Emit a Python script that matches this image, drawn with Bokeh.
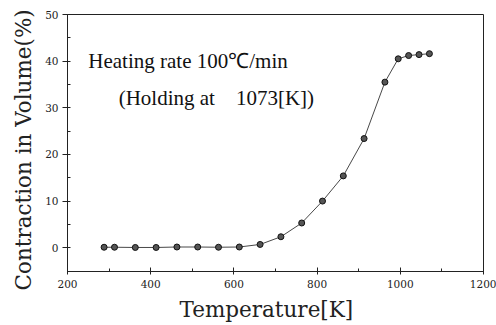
from bokeh.plotting import figure
from bokeh.models import Range1d, Label, FixedTicker, Title
from bokeh.embed import file_html
from bokeh.resources import INLINE

# Data
temperature_K = [288, 313, 363, 413, 463, 513, 563, 613, 663, 713,
                 763, 813, 863, 913, 963, 995, 1020, 1045, 1070]
contraction_pct = [0.1, 0.1, 0.05, 0.05, 0.15, 0.15, 0.1, 0.15, 0.7, 2.35,
                   5.3, 10.0, 15.4, 23.4, 35.5, 40.5, 41.2, 41.4, 41.6]
x_ticks = [200, 400, 600, 800, 1000, 1200]
y_ticks = [0, 10, 20, 30, 40, 50]

p = figure(frame_width=416, frame_height=257, output_backend="svg", toolbar_location=None,
           x_range=Range1d(200, 1200), y_range=Range1d(-5.1, 50),
           min_border_left=67, min_border_right=13, min_border_top=14, min_border_bottom=54)
p.grid.visible = False
p.outline_line_color = "#222222"
p.outline_line_width = 1
p.background_fill_color = "white"
p.border_fill_color = "white"

p.line(temperature_K, contraction_pct, line_color="#333333", line_width=0.9)
p.scatter(temperature_K, contraction_pct, size=6, fill_color="#555555",
          line_color="#111111", line_width=1)

serif = "DejaVu Serif"
for ax in (p.xaxis[0], p.yaxis[0]):
    ax.axis_line_color = "#222222"
    ax.major_tick_line_color = "#222222"
    ax.minor_tick_line_color = "#222222"
    ax.major_label_text_font = serif
    ax.major_label_text_font_size = "10.5px"
    ax.major_label_text_color = "#222222"
    ax.minor_tick_in = 3
    ax.minor_tick_out = 0

p.xaxis.ticker = FixedTicker(ticks=x_ticks, minor_ticks=list(range(200, 1201, 100)))
p.yaxis.ticker = FixedTicker(ticks=y_ticks, minor_ticks=list(range(-5, 51, 5)))
p.xaxis.major_tick_in = 4
p.xaxis.major_tick_out = 3
p.yaxis.major_tick_in = 0
p.yaxis.major_tick_out = 5
p.xaxis.major_label_standoff = 5
p.yaxis.major_label_standoff = 4

# axis titles as side titles so they can be offset like in the original
p.add_layout(Title(text="Contraction in Volume(%)", align="left", offset=-19, standoff=14,
                   text_font=serif, text_font_size="21.5px", text_font_style="normal",
                   text_color="#222222"), "left")
p.add_layout(Title(text="Temperature[K]", align="left", offset=112, standoff=8,
                   text_font=serif, text_font_size="21.5px", text_font_style="normal",
                   text_color="#222222"), "below")

p.add_layout(Label(x=250, y=40.1, text="Heating rate 100\u2103/min",
                   text_font="Liberation Serif", text_font_size="21px",
                   text_color="#111111", text_baseline="middle"))
p.add_layout(Label(x=323, y=32.0, text="(Holding at \u00a0\u00a0\u00a01073[K])",
                   text_font="Liberation Serif", text_font_size="21px",
                   text_color="#111111", text_baseline="middle"))

open("out.html", "w").write(file_html(p, INLINE))
